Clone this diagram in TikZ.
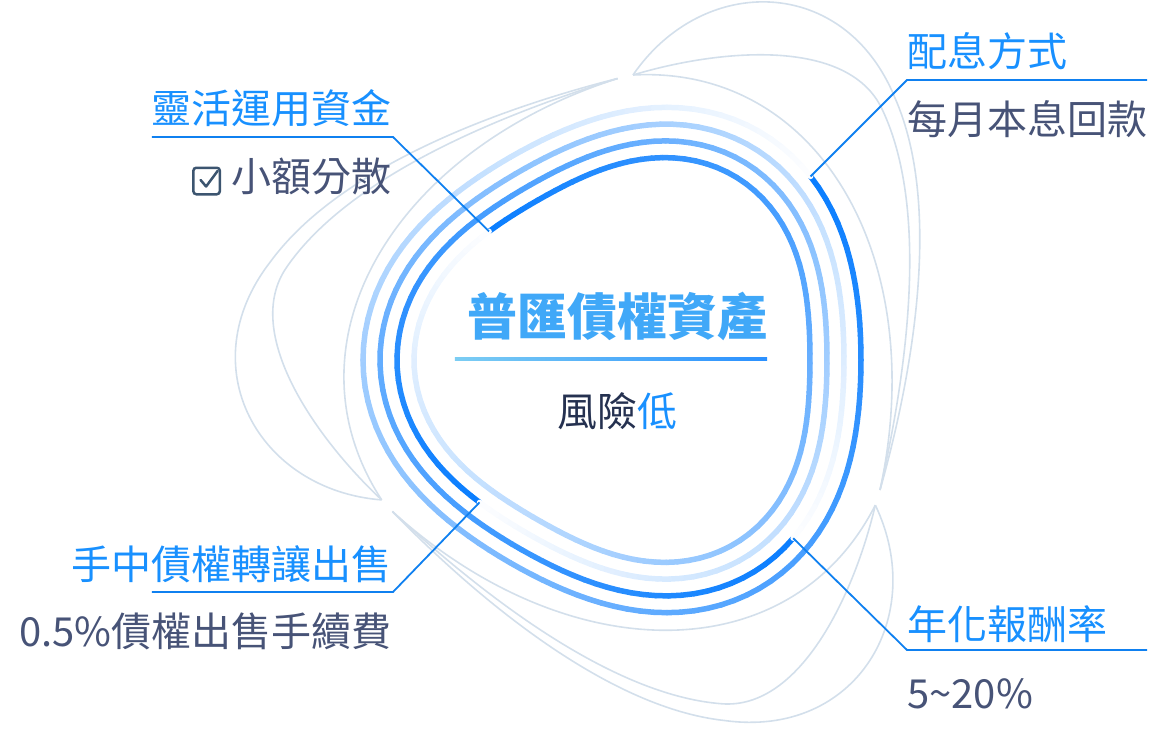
\documentclass[tikz,border=0pt]{standalone}
\usepackage{fontspec}
\setmainfont{Noto Sans CJK TC}

\definecolor{ringblue}{HTML}{0A7EFF}
\definecolor{headblue}{HTML}{1890FF}
\definecolor{leadblue}{HTML}{0F80F0}
\definecolor{subgrey}{HTML}{475377}
\definecolor{boxgrey}{HTML}{3C5570}
\definecolor{darknavy}{HTML}{253150}
\definecolor{petalgrey}{HTML}{D3DFEB}
\definecolor{titlelight}{HTML}{7CCDF3}
\definecolor{titleblue}{HTML}{2A90FF}
\definecolor{titlemid}{HTML}{40A8F8}

\begin{document}
\begin{tikzpicture}[x=1pt, y=1pt,
  declare function={
    ringx(\rad,\ang) = -3+(\rad-15*cos(3*\ang))*cos(\ang);
    ringy(\rad,\ang) = (\rad-15*cos(3*\ang))*sin(\ang);
  },
  ring/.style={line width=5.5pt, line cap=round},
  petal/.style={draw=petalgrey, line width=1.6pt},
  leader/.style={draw=leadblue, line width=1.8pt},
  head/.style={font=\fontsize{40}{40}\selectfont, text=headblue, inner sep=0pt},
  sub/.style={font=\fontsize{40}{40}\selectfont, text=subgrey, inner sep=0pt},
  checkbox/.style={draw=boxgrey, line width=2.5pt, rounded corners=3pt,
    minimum size=26.5pt, inner sep=0pt}
]
\useasboundingbox (-630,-374) rectangle (536,360);

% Outer petals
\foreach \rot in {0,120,240} {
  \begin{scope}[rotate=\rot]
    \draw[petal] (3,285) .. controls (73,387) and (215,385) .. (265,262)
                         .. controls (313,153) and (282,-17) .. (250,-130);
    \draw[petal] (3,285) .. controls (89,311) and (218,323) .. (252,251)
                         .. controls (295,161) and (283,15) .. (250,-130);
    \draw[petal] (3,285) .. controls (190,295) and (300,100) .. (250,-130);
  \end{scope}
}

% Rings, fading from their start point
\foreach \rad/\st in {198/137, 215/224, 232/313, 249/45}
  \foreach \j in {0,...,119} {
    \pgfmathsetmacro\aone{\st-3*\j}
    \pgfmathsetmacro\atwo{\st-3*\j-3}
    \pgfmathsetmacro\pc{100-0.83*\j}
    \draw[ring, draw=ringblue!\pc!white]
      ({ringx(\rad,\aone)},{ringy(\rad,\aone)}) -- ({ringx(\rad,\atwo)},{ringy(\rad,\atwo)});
  }

% Ring start points and label corners
\coordinate (s1) at ({ringx(249,45)},{ringy(249,45)});
\coordinate (s2) at ({ringx(232,313)},{ringy(232,313)});
\coordinate (s3) at ({ringx(215,224)},{ringy(215,224)});
\coordinate (s4) at ({ringx(198,137)},{ringy(198,137)});
\coordinate (c1) at (-237,223);
\coordinate (c2) at (277,280);
\coordinate (c3) at (-237,-232);
\coordinate (c4) at (277,-290);

% Leaders
\draw[leader] (s4) -- (c1) -- ++(-241,0);
\draw[leader] (s1) -- (c2) -- ++(240,0);
\draw[leader] (s3) -- (c3) -- ++(-241,0);
\draw[leader] (s2) -- (c4) -- ++(240,0);

% Labels
\node[head, anchor=base east] (h1) at ([xshift=-1pt, yshift=13pt]c1) {靈活運用資金};
\node[sub, anchor=base east] (t1) at ([yshift=-68pt]h1.base east) {小額分散};
\node[checkbox] (cb) at ([xshift=-25pt, yshift=11pt]t1.base west) {};
\draw[boxgrey, line width=2.5pt, line cap=round, line join=round]
  ([shift={(-6,1)}]cb.center) -- ([shift={(-0.5,-5.5)}]cb.center) -- ([shift={(11,10)}]cb.center);
\node[head, anchor=base west] (h2) at ([yshift=13pt]c2) {配息方式};
\node[sub, anchor=base west] (t2) at ([yshift=-68pt]h2.base west) {每月本息回款};
\node[head, anchor=base east] (h3) at ([xshift=-1pt, yshift=13pt]c3) {手中債權轉讓出售};
\node[sub, anchor=base east] (t3) at ([yshift=-67pt]h3.base east) {0.5\%債權出售手續費};
\node[head, anchor=base west] (h4) at ([yshift=11pt]c4) {年化報酬率};
\node[sub, anchor=base west] (t4) at ([yshift=-69pt]h4.base west) {5\textasciitilde 20\%};

% Centre
\node[font=\fontsize{50}{50}\selectfont\bfseries, text=titlemid, inner sep=0pt, anchor=base]
  (title) at (-12,25) {普匯債權資產};
\shade[left color=titlelight, right color=titleblue] (-175,0) rectangle (137,2.2);
\node[font=\fontsize{40}{40}\selectfont, text=headblue, inner sep=0pt, anchor=base]
  (risk) at (-13,-66) {{\color{darknavy}風險}低};

\end{tikzpicture}
\end{document}
